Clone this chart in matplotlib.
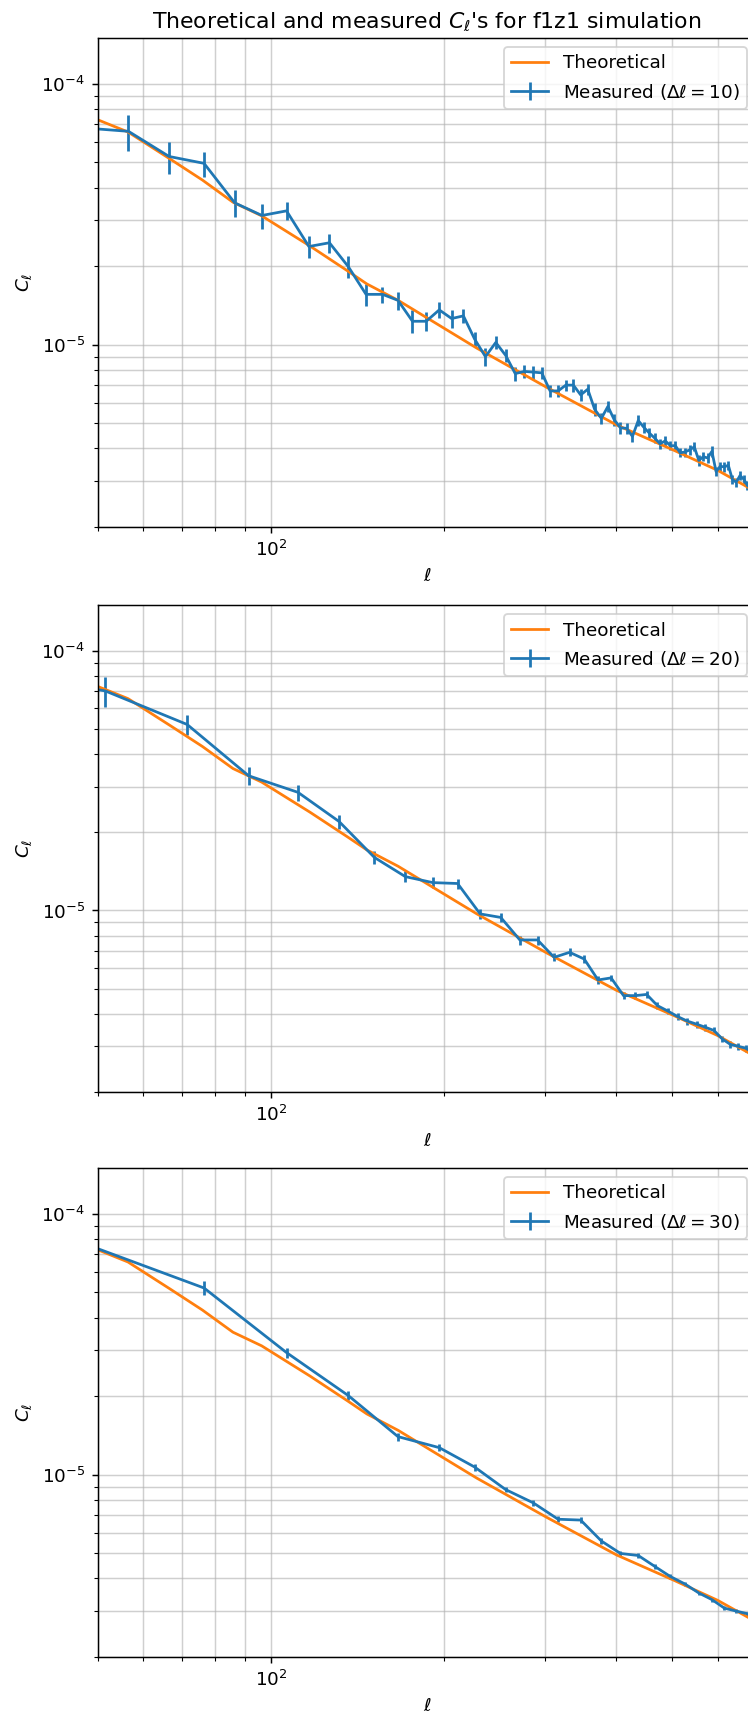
import matplotlib
matplotlib.use("Agg")
import matplotlib.pyplot as plt

# theoretical C_ell
ell_th = [46, 50, 56.4, 66.8, 76, 85.9, 96.4, 117, 136, 147, 166.6, 228.5, 302.5, 400.5, 502, 600, 700, 720]
cl_th = [7.9e-5, 7.28e-5, 6.54e-5, 5.15e-5, 4.28e-5, 3.52e-5, 3.12e-5, 2.39e-5, 1.92e-5, 1.71e-5,
         1.48e-5, 9.7e-6, 6.86e-6, 4.92e-6, 3.95e-6, 3.3e-6, 2.73e-6, 2.65e-6]

# measured, delta ell = 10
ell_10 = [46.5 + 10 * k for k in range(66)]
cl_10 = [6.8e-5, 6.58e-5, 5.27e-5, 4.96e-5, 3.50e-5, 3.13e-5, 3.26e-5, 2.38e-5, 2.46e-5, 1.99e-5,
         1.56e-5, 1.56e-5, 1.48e-5, 1.23e-5, 1.23e-5, 1.36e-5, 1.26e-5, 1.29e-5, 1.05e-5, 9.0e-6,
         1.02e-5, 9.1e-6, 7.75e-6, 7.9e-6, 7.85e-6, 7.8e-6, 6.65e-6, 6.65e-6, 7.0e-6, 7.0e-6,
         6.42e-6, 6.75e-6, 5.65e-6, 5.22e-6, 5.8e-6, 5.15e-6, 4.8e-6, 4.78e-6, 4.45e-6, 5.12e-6,
         4.82e-6, 4.58e-6, 4.38e-6, 4.17e-6, 4.28e-6, 4.1e-6, 4.1e-6, 3.85e-6, 3.88e-6, 3.95e-6,
         4.06e-6, 3.6e-6, 3.72e-6, 3.68e-6, 3.9e-6, 3.26e-6, 3.42e-6, 3.4e-6, 3.45e-6, 3.05e-6,
         2.97e-6, 3.15e-6, 3.05e-6, 2.88e-6, 2.82e-6, 2.78e-6]
rel_10 = [0.17, 0.16, 0.14, 0.11, 0.12, 0.11, 0.08, 0.10, 0.085, 0.095,
          0.10, 0.07, 0.08, 0.10, 0.085, 0.07, 0.08, 0.06, 0.07, 0.08,
          0.06, 0.06, 0.06, 0.055, 0.055, 0.055, 0.055, 0.05, 0.05, 0.055,
          0.05, 0.05, 0.055, 0.05, 0.05, 0.05, 0.05, 0.045, 0.05, 0.05,
          0.045, 0.045, 0.045, 0.045, 0.045, 0.04, 0.045, 0.04, 0.04, 0.045,
          0.04, 0.045, 0.04, 0.04, 0.045, 0.04, 0.04, 0.04, 0.04, 0.04,
          0.04, 0.04, 0.04, 0.04, 0.04, 0.04]

# measured, delta ell = 20
ell_20 = [31.5 + 20 * k for k in range(34)]
cl_20 = [8.5e-5, 7.0e-5, 5.2e-5, 3.3e-5, 2.85e-5, 2.2e-5, 1.6e-5, 1.35e-5, 1.28e-5, 1.27e-5,
         9.7e-6, 9.4e-6, 7.7e-6, 7.7e-6, 6.6e-6, 6.9e-6, 6.5e-6, 5.4e-6, 5.5e-6, 4.7e-6,
         4.7e-6, 4.75e-6, 4.3e-6, 4.1e-6, 3.9e-6, 3.75e-6, 3.65e-6, 3.55e-6, 3.45e-6, 3.2e-6,
         3.05e-6, 3.0e-6, 2.95e-6, 2.85e-6]
rel_20 = [0.14, 0.13, 0.09, 0.08, 0.07, 0.06, 0.06, 0.05, 0.05, 0.045,
          0.045, 0.04, 0.04, 0.04, 0.035, 0.035, 0.035, 0.035, 0.03, 0.03,
          0.03, 0.03, 0.03, 0.03, 0.03, 0.03, 0.03, 0.03, 0.03, 0.03,
          0.03, 0.03, 0.03, 0.03]

# measured, delta ell = 30
ell_30 = [46.5 + 30 * k for k in range(22)]
cl_30 = [7.8e-5, 5.2e-5, 2.94e-5, 2.01e-5, 1.40e-5, 1.27e-5, 1.07e-5, 8.77e-6, 7.8e-6, 6.75e-6,
         6.7e-6, 5.57e-6, 4.99e-6, 4.9e-6, 4.45e-6, 4.07e-6, 3.81e-6, 3.52e-6, 3.32e-6, 3.08e-6,
         3.0e-6, 2.93e-6]
rel_30 = [0.08, 0.06, 0.045, 0.04, 0.035, 0.03, 0.03, 0.025, 0.025, 0.025,
          0.025, 0.025, 0.02, 0.02, 0.02, 0.02, 0.02, 0.02, 0.02, 0.02,
          0.02, 0.02]

panels = [(10, ell_10, cl_10, rel_10), (20, ell_20, cl_20, rel_20), (30, ell_30, cl_30, rel_30)]

DPI = 132
W, H = 748, 1720
fig = plt.figure(figsize=(W / DPI, H / DPI), dpi=DPI)
# axes run slightly past the right border, like the cropped original
boxes = [(98, 38, 527), (98, 605, 1092), (98, 1168, 1657)]

for i, (dl, ell, cl, rel) in enumerate(panels):
    x0, ytop, ybot = boxes[i]
    ax = fig.add_axes([x0 / W, 1 - ybot / H, 658 / W, (ybot - ytop) / H])
    err = [c * r for c, r in zip(cl, rel)]
    ax.errorbar(ell, cl, yerr=err, label=r"Measured ($\Delta\ell = %d$)" % dl)
    ax.plot(ell_th, cl_th, label="Theoretical")
    ax.set_xscale("log")
    ax.set_yscale("log")
    ax.set_xlim(50, 700)
    ax.set_ylim(2e-6, 1.5e-4)
    ax.grid(True, which="both", alpha=0.6)
    ax.set_xlabel(r"$\ell$")
    ax.set_ylabel(r"$C_\ell$")
    ax.legend(loc="upper right")
    if i == 0:
        ax.set_title(r"Theoretical and measured $C_\ell$'s for f1z1 simulation")

fig.savefig("out.png", dpi=DPI)
